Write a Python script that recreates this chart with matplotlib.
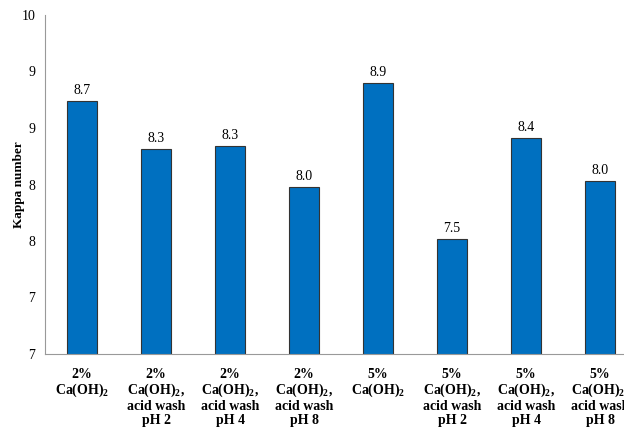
import numpy as np
import matplotlib
matplotlib.use("Agg")
import matplotlib.pyplot as plt

plt.rcParams["font.family"] = ["Liberation Serif", "DejaVu Serif"]
plt.rcParams["mathtext.fontset"] = "custom"
plt.rcParams["mathtext.rm"] = "Liberation Serif:bold"
plt.rcParams["mathtext.it"] = "Liberation Serif:bold"
plt.rcParams["mathtext.bf"] = "Liberation Serif:bold"

# data
categories = [
    "2%\nCa(OH)$_2$",
    "2%\nCa(OH)$_2$,\nacid wash\npH 2",
    "2%\nCa(OH)$_2$,\nacid wash\npH 4",
    "2%\nCa(OH)$_2$,\nacid wash\npH 8",
    "5%\nCa(OH)$_2$",
    "5%\nCa(OH)$_2$,\nacid wash\npH 2",
    "5%\nCa(OH)$_2$,\nacid wash\npH 4",
    "5%\nCa(OH)$_2$,\nacid wash\npH 8",
]
kappa = [8.74, 8.31, 8.34, 7.98, 8.90, 7.52, 8.41, 8.03]
y_ticks = [6.5, 7.0, 7.5, 8.0, 8.5, 9.0, 9.5]
y_tick_labels = ["7", "7", "8", "8", "9", "9", "10"]

fig = plt.figure(figsize=(6.24, 4.28), dpi=100)
ax = fig.add_axes([45 / 624, 74 / 428, 592 / 624, 339 / 428])

x = np.arange(len(categories))
bars = ax.bar(x, kappa, width=0.4, color="#0070C0", edgecolor="#333333",
              linewidth=0.8, bottom=0)

for xi, v in zip(x, kappa):
    ax.annotate(f"{v:.1f}", (xi, v), xytext=(0, 3), textcoords="offset points",
                ha="center", va="bottom", fontsize=10)

ax.set_xlim(-0.5, len(categories) - 0.5)
ax.set_ylim(6.5, 9.5)
ax.set_yticks(y_ticks)
ax.set_yticklabels(y_tick_labels, fontsize=10)
ax.set_xticks(x)
ax.set_xticklabels(categories, fontsize=10, fontweight="bold", linespacing=1.1)
ax.tick_params(axis="x", length=0, pad=10)
ax.tick_params(axis="y", length=0, pad=7)

ax.set_ylabel("Kappa number", fontsize=9.5, fontweight="bold")
ax.yaxis.set_label_coords(-0.033, 0.5)

for s in ["top", "right"]:
    ax.spines[s].set_visible(False)
ax.spines["left"].set_color("#999999")
ax.spines["bottom"].set_color("#999999")
ax.spines["left"].set_linewidth(0.8)
ax.spines["bottom"].set_linewidth(0.8)

fig.savefig("out.png", dpi=100)
